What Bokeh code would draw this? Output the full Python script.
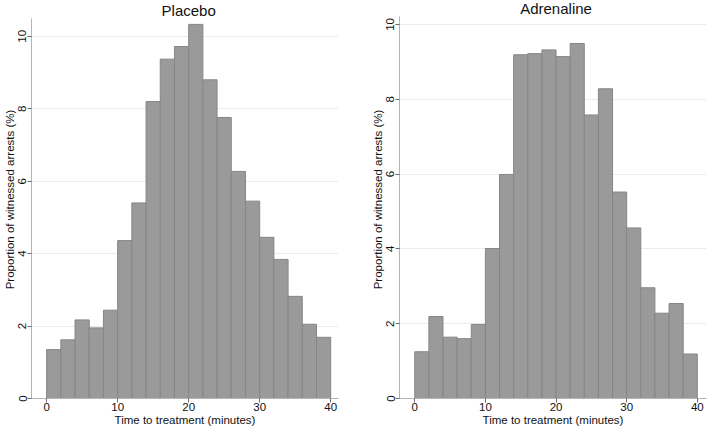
from bokeh.plotting import figure
from bokeh.layouts import row
from bokeh.models import Range1d, FixedTicker, Label
from bokeh.embed import file_html
from bokeh.resources import INLINE

# ---- data (percent of witnessed arrests per 2-minute bin) ----
bin_left = [0, 2, 4, 6, 8, 10, 12, 14, 16, 18, 20, 22, 24, 26, 28, 30, 32, 34, 36, 38]
bin_width = 2
placebo = [1.35, 1.62, 2.17, 1.95, 2.44, 4.36, 5.40, 8.20, 9.37, 9.72,
           10.33, 8.80, 7.76, 6.27, 5.45, 4.45, 3.84, 2.82, 2.05, 1.69]
adrenaline = [1.25, 2.19, 1.64, 1.60, 1.98, 4.01, 5.99, 9.19, 9.22, 9.32,
              9.14, 9.49, 7.58, 8.28, 5.52, 4.56, 2.96, 2.28, 2.54, 1.19]
x_ticks = [0, 10, 20, 30, 40]
y_ticks = [0, 2, 4, 6, 8, 10]
titles = ["Placebo", "Adrenaline"]
x_title = "Time to treatment (minutes)"
y_title = "Proportion of witnessed arrests (%)"

FONT = "Liberation Sans"
BAR_FILL = "#9a9a9a"
BAR_LINE = "#868686"


def panel(title, values, width, xr, yr, ytop, min_left, min_right, title_y):
    p = figure(width=width, height=428, output_backend="svg", toolbar_location=None,
               x_range=Range1d(*xr), y_range=Range1d(*yr),
               min_border_left=min_left, min_border_right=min_right,
               min_border_top=0, min_border_bottom=0)
    p.outline_line_color = None
    p.background_fill_color = "white"
    p.border_fill_color = "white"

    rights = [b + bin_width for b in bin_left]
    p.quad(left=bin_left, right=rights, bottom=0, top=values,
           fill_color=BAR_FILL, line_color=BAR_LINE, line_width=1)

    p.xgrid.visible = False
    p.ygrid.ticker = FixedTicker(ticks=y_ticks)
    p.ygrid.grid_line_color = "#ececec"
    p.ygrid.grid_line_width = 1

    p.xaxis.ticker = FixedTicker(ticks=x_ticks)
    p.yaxis.ticker = FixedTicker(ticks=y_ticks)
    p.yaxis.bounds = (0, ytop)
    for ax in (p.xaxis[0], p.yaxis[0]):
        ax.axis_line_color = "#b4b4b4"
        ax.major_tick_line_color = "#6a6a6a"
        ax.major_tick_out = 4
        ax.major_tick_in = 0
        ax.minor_tick_line_color = None
        ax.major_label_text_font = FONT
        ax.major_label_text_font_size = "11.5px"
        ax.major_label_text_color = "#111111"
        ax.axis_label_text_font = FONT
        ax.axis_label_text_font_size = "11.5px"
        ax.axis_label_text_font_style = "normal"
        ax.axis_label_text_color = "#111111"
        ax.major_label_standoff = 1
        ax.axis_label_standoff = 0
    p.xaxis.major_label_standoff = 0
    p.yaxis.major_label_orientation = "vertical"
    p.xaxis.axis_label = x_title
    p.yaxis.axis_label = y_title

    p.add_layout(Label(x=20, y=title_y, text=title, text_align="center",
                       text_baseline="middle", text_font=FONT,
                       text_font_size="15px", text_color="#111111"))
    return p


left = panel(titles[0], placebo, 354, (-2.13, 41.1), (0, 10.99), 10.5, 25, 16, 10.72)
right = panel(titles[1], adrenaline, 353, (-2.16, 41.3), (0, 10.64), 10.2, 45, 1, 10.42)

layout = row(left, right)
open("out.html", "w").write(file_html(layout, INLINE))
